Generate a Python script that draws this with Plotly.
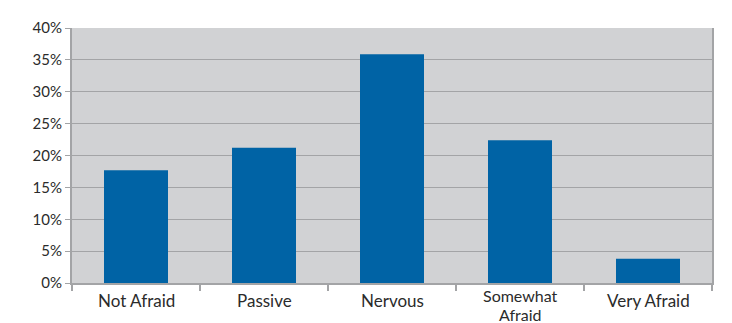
import plotly.graph_objects as go

categories = ["Not Afraid", "Passive", "Nervous", "Somewhat Afraid", "Very Afraid"]
label_lines = [["Not Afraid"], ["Passive"], ["Nervous"], ["Somewhat", "Afraid"], ["Very Afraid"]]
shares = [17.7, 21.2, 35.9, 22.4, 3.8]
y_ticks = [0, 5, 10, 15, 20, 25, 30, 35, 40]
y_tick_labels = [f"{v}%" for v in y_ticks]

FONT = "Lato, 'Open Sans', sans-serif"
TEXT_COLOR = "#2b2b2b"
AXIS_GRAY = "#A3A4A6"

fig = go.Figure(
    go.Bar(
        x=categories,
        y=shares,
        marker=dict(color="#0063A5", line=dict(width=0)),
        hoverinfo="x+y",
    )
)

# Category labels under the axis; the wrapped one is set a little smaller
# so its two lines fit in the bottom margin.
for cat, lines in zip(categories, label_lines):
    if len(lines) == 1:
        size, top, step = 17, -6, 0
    else:
        size, top, step = 16, -2, 19
    for i, line in enumerate(lines):
        fig.add_annotation(
            x=cat, xref="x",
            y=0, yref="paper",
            yanchor="top", xanchor="center",
            yshift=top - step * i,
            borderpad=0,
            text=line,
            showarrow=False,
            font=dict(family=FONT, size=size, color=TEXT_COLOR),
        )

fig.update_layout(
    width=732,
    height=323,
    margin=dict(l=72, r=20, t=28, b=40),
    paper_bgcolor="white",
    plot_bgcolor="#D1D2D4",
    bargap=0.5,
    showlegend=False,
    font=dict(family=FONT, size=15, color=TEXT_COLOR),
)

fig.update_xaxes(
    automargin=False,
    showgrid=False,
    showline=True,
    linecolor=AXIS_GRAY,
    linewidth=2,
    ticks="outside",
    tickson="boundaries",
    ticklen=6,
    tickwidth=2,
    tickcolor=AXIS_GRAY,
    showticklabels=False,
    zeroline=False,
)

fig.update_yaxes(
    automargin=False,
    range=[0, 40],
    tickvals=y_ticks,
    ticktext=y_tick_labels,
    showgrid=True,
    gridcolor=AXIS_GRAY,
    gridwidth=1,
    showline=True,
    mirror=True,
    linecolor=AXIS_GRAY,
    linewidth=2,
    ticks="outside",
    ticklen=5,
    tickwidth=1,
    tickcolor=AXIS_GRAY,
    tickfont=dict(size=15),
    zeroline=False,
)

fig.write_html("out.html")
